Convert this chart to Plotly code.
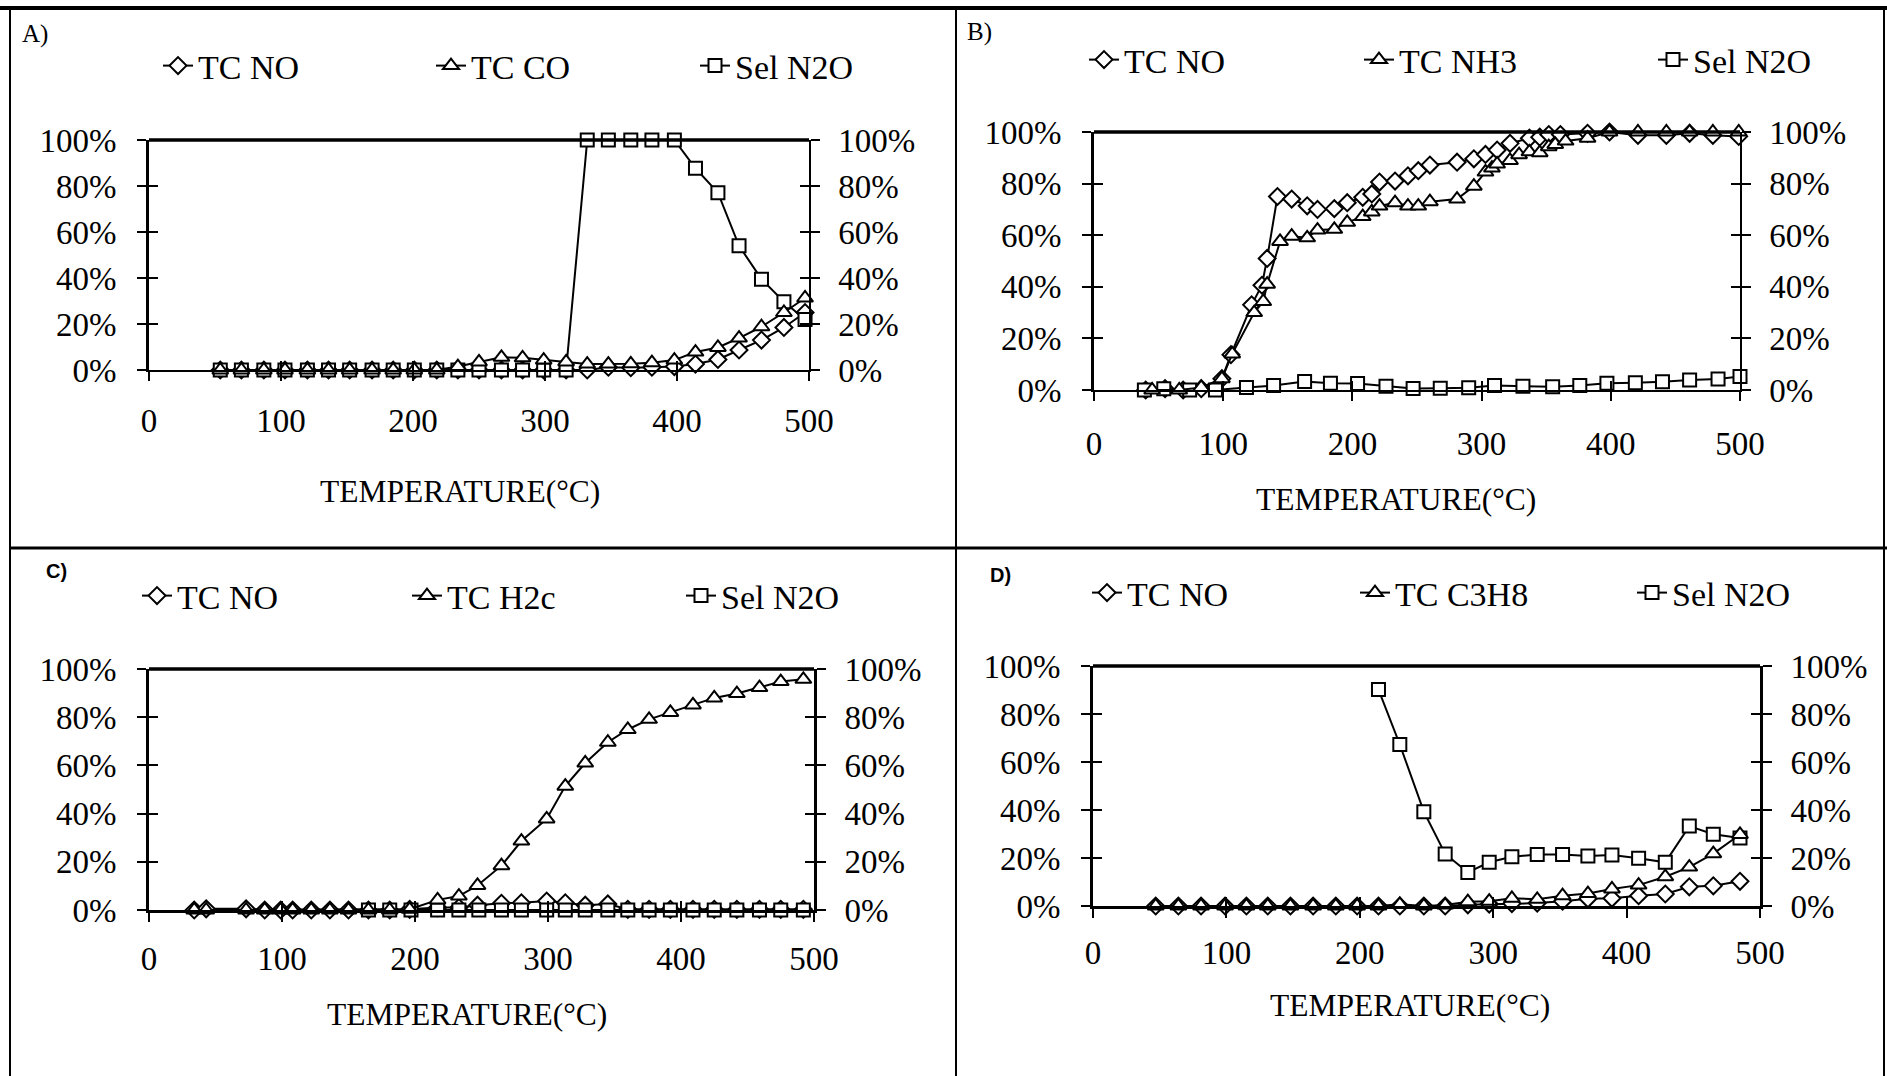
import plotly.graph_objects as go

W, H = 1887, 1076

# ---------------- data: temperature (°C) and conversion / selectivity (%) ----------------
# A) NO + CO
a_temp = [54, 70, 87, 103, 120, 136, 152, 169, 185, 201, 218, 234, 250, 267, 283, 299, 316,
          332, 348, 365, 381, 398, 414, 431, 447, 464, 481, 497]
a_tc_no = [0, 0, 0, 0, 0, 0, 0, 0, 0, 0, 0, 0, 0, 0, 0, 0, 0,
           0, 1.2, 1.0, 1.2, 1.5, 2.6, 4.6, 8.7, 13, 18.5, 25]
a_tc_co = [0, 0, 0, 0, 0, 0, 0, 0, 0, 0, 0, 1.5, 3.5, 5.5, 5.3, 4.3, 3.5,
           2.6, 2.6, 2.7, 3.2, 4.3, 7.8, 9.8, 13.9, 18.8, 25, 31.3]
a_sel_n2o = [0, 0, 0, 0, 0, 0, 0, 0, 0, 0, 0, 0, 0, 0, 0, 0, 0,
             100, 100, 100, 100, 100, 87.7, 77.1, 54, 39.5, 29.7, 22]

# B) NO + NH3
b_temp_no = [40, 55, 69, 83, 99, 106, 122, 130, 134, 142, 153, 165, 173, 186, 196, 208, 215, 221,
             233, 243, 251, 260, 281, 294, 303, 312, 322, 337, 345, 352, 361, 382, 399, 421, 443,
             461, 479, 499]
b_tc_no = [0, 0.5, 0, 0.5, 4.4, 13.7, 33, 40.6, 51, 75, 74, 71.4, 70, 70.3, 72.6, 74.7, 76, 80.6,
           81, 83, 85, 87.2, 88.3, 89.6, 91.3, 93, 95.6, 97.6, 98, 99, 99, 99.5, 100, 98.7, 98.7,
           99.5, 98.7, 98.3]
b_temp_nh3 = [45, 66, 83, 99, 107, 124, 131, 134, 144, 153, 165, 173, 186, 196, 208, 215, 221, 233,
              243, 251, 260, 281, 294, 303, 308, 312, 322, 329, 337, 345, 352, 357, 365, 382, 399,
              421, 443, 461, 479, 499]
b_tc_nh3 = [0, 0, 1, 4.4, 14, 30, 34.3, 41, 57.6, 59.6, 59, 62, 62.3, 65, 67.2, 69, 71.3, 72.6,
            71.3, 71.3, 73, 74, 79, 84.5, 86, 87.6, 89, 91.2, 92.3, 92, 94.3, 95.2, 96.5, 97.6, 100,
            100, 100, 100, 100, 100]
b_temp_sel = [39, 54, 74, 94, 118, 139, 163, 183, 204, 226, 247, 268, 290, 310, 332, 355, 376, 397,
              419, 440, 461, 483, 500]
b_sel_n2o = [0, 0.5, 0, 0, 1, 1.7, 3.3, 2.6, 2.5, 1.5, 0.6, 0.7, 0.9, 1.7, 1.5, 1.3, 1.7, 2.6,
             2.8, 3.2, 3.9, 4.3, 5.2]

# C) NO + H2
c_temp = [34, 43, 73, 87, 99, 108, 122, 136, 150, 165, 181, 196, 217, 233, 247, 265, 280, 299,
          313, 328, 345, 360, 376, 392, 409, 425, 442, 459, 475, 492]
c_tc_no = [0, 0.5, 0.5, 0, 0, 0, 0, 0, 0, 0, 0, 0.3, 1, 1, 2, 2.8, 3, 3.7,
           3, 2, 2.5, 0.3, 0.3, 0.3, 0.3, 0.3, 0.3, 0.3, 0.3, 0.3]
c_tc_h2 = [0, 0, 0, 0, 0, 0, 0, 0, 0, 0, 0, 0.3, 4.2, 5.8, 10.2, 18.4, 28.6, 37.8,
           51.4, 61, 69.6, 74.9, 79.1, 82, 85.1, 88, 89.8, 92.3, 94.8, 95.7]
c_temp_sel = [165, 181, 197, 217, 233, 248, 265, 280, 299, 313, 328, 345, 360, 376, 392, 409, 425,
              442, 459, 475, 492]
c_sel_n2o = [0, 0, 0, 0, 0, 0, 0, 0, 0, 0, 0, 0, 0, 0, 0, 0, 0, 0, 0, 0, 0]

# D) NO + C3H8
d_temp = [47, 64, 81, 99, 115, 131, 148, 165, 182, 198, 214, 230, 248, 264, 281, 297, 314, 333,
          352, 371, 389, 409, 429, 447, 465, 485]
d_tc_no = [0, 0, 0, 0, 0, 0, 0, 0, 0, 0, 0, 0, 0, 0, 0.5, 0.8, 1, 1.2,
           2, 3, 3.2, 4.3, 5, 8, 8.4, 10.3]
d_tc_c3h8 = [0, 0, 0, 0, 0, 0, 0, 0, 0, 0, 0, 0.7, 0, 0.4, 1.8, 2, 3.2, 2.8,
             4.3, 5.2, 7.1, 8.7, 12.2, 16.2, 21.8, 29.8]
d_temp_sel = [214, 230, 248, 264, 281, 297, 314, 333, 352, 371, 389, 409, 429, 447, 465, 485]
d_sel_n2o = [90.2, 67.3, 39.3, 21.7, 14, 18.2, 20.5, 21.5, 21.5, 20.8, 21.2, 19.9, 18.2, 33.3,
             29.9, 28.3]

x_ticks = [0, 100, 200, 300, 400, 500]
y_ticks = [0, 20, 40, 60, 80, 100]
y_tick_text = ["0%", "20%", "40%", "60%", "80%", "100%"]
x_title = "TEMPERATURE(°C)"

# ---------------- styling / layout ----------------
SERIF = "Liberation Serif"
SANS = "Liberation Sans"
BLACK = "#000000"


def fx(px):
    return px / W


def fy(px):
    return 1 - px / H


# each legend entry gets its own legend box; positions give the left edge of the entry text
panels = [
    dict(label="A)", label_font=dict(family=SERIF, size=25), label_xy=(20, 34),
         x_px=(149, 809), y_px=(140, 370), right_w=1.5, bottom_w=1.5, x_standoff=12,
         legend_text_x=(199, 472, 736), legend_y=66, title_xy=(460, 491),
         series=[(a_temp, a_tc_no, "TC NO", "diamond"),
                 (a_temp, a_tc_co, "TC CO", "triangle-up"),
                 (a_temp, a_sel_n2o, "Sel N2O", "square")]),
    dict(label="B)", label_font=dict(family=SERIF, size=25), label_xy=(965, 32),
         x_px=(1094, 1740), y_px=(132, 390), right_w=1.5, bottom_w=1.5, x_standoff=15,
         legend_text_x=(1125, 1400, 1694), legend_y=60, title_xy=(1396, 499),
         series=[(b_temp_no, b_tc_no, "TC NO", "diamond"),
                 (b_temp_nh3, b_tc_nh3, "TC NH3", "triangle-up"),
                 (b_temp_sel, b_sel_n2o, "Sel N2O", "square")]),
    dict(label="C)", label_font=dict(family=SANS, size=20, weight="bold"), label_xy=(44, 571),
         x_px=(149, 814), y_px=(669, 910), right_w=3, bottom_w=2.5, x_standoff=9,
         legend_text_x=(178, 448, 722), legend_y=596, title_xy=(467, 1014),
         series=[(c_temp, c_tc_no, "TC NO", "diamond"),
                 (c_temp, c_tc_h2, "TC H2c", "triangle-up"),
                 (c_temp_sel, c_sel_n2o, "Sel N2O", "square")]),
    dict(label="D)", label_font=dict(family=SANS, size=20, weight="bold"), label_xy=(988, 575),
         x_px=(1093, 1760), y_px=(666, 906), right_w=3, bottom_w=2.5, x_standoff=7,
         legend_text_x=(1128, 1396, 1673), legend_y=593, title_xy=(1410, 1005),
         series=[(d_temp, d_tc_no, "TC NO", "diamond"),
                 (d_temp, d_tc_c3h8, "TC C3H8", "triangle-up"),
                 (d_temp_sel, d_sel_n2o, "Sel N2O", "square")]),
]

marker_size = {"diamond": 13, "triangle-up": 14, "square": 13}
LEGEND_TEXT_OFFSET = 41

fig = go.Figure()
layout = dict(width=W, height=H, margin=dict(l=0, r=0, t=0, b=0, autoexpand=False),
              paper_bgcolor="white", plot_bgcolor="rgba(0,0,0,0)",
              font=dict(family=SERIF, color=BLACK), showlegend=True)
shapes, annotations = [], []


def ax_id(kind, n):
    return kind if n == 1 else f"{kind}{n}"


def ax_key(kind, n):
    return f"{kind}axis" if n == 1 else f"{kind}axis{n}"


tick_font = dict(family=SERIF, size=33, color=BLACK)
legend_count = 0

for p, pan in enumerate(panels):
    # xa/ya: labelled bottom + left axes with outward ticks
    # xb/yb: overlays carrying the inward half of the cross ticks (yb mirrors onto the right)
    # yc:    right-hand percentage axis (selectivity)
    xa, xb = 2 * p + 1, 2 * p + 2
    ya, yb, yc = 3 * p + 1, 3 * p + 2, 3 * p + 3
    xdom = [fx(pan["x_px"][0]), fx(pan["x_px"][1])]
    ydom = [fy(pan["y_px"][1]), fy(pan["y_px"][0])]
    common_x = dict(range=[0, 500], tickmode="array", tickvals=x_ticks, showgrid=False,
                    zeroline=False, tickcolor=BLACK, tickwidth=1.5, ticklen=9,
                    automargin=False)
    common_y = dict(range=[0, 100], tickmode="array", tickvals=y_ticks, ticktext=y_tick_text,
                    showgrid=False, zeroline=False, tickcolor=BLACK, tickwidth=1.5, ticklen=9,
                    automargin=False)

    layout[ax_key("x", xa)] = dict(common_x, domain=xdom, anchor=ax_id("y", ya), ticks="outside",
                                   showline=True, linecolor=BLACK, linewidth=pan["bottom_w"],
                                   tickfont=tick_font, ticklabelstandoff=pan["x_standoff"])
    layout[ax_key("x", xb)] = dict(common_x, overlaying=ax_id("x", xa), anchor=ax_id("y", ya),
                                   side="bottom", ticks="inside", showticklabels=False,
                                   showline=False)
    layout[ax_key("y", ya)] = dict(common_y, domain=ydom, anchor=ax_id("x", xa), ticks="outside",
                                   showline=True, linecolor=BLACK, linewidth=3,
                                   tickfont=tick_font, ticklabelstandoff=14)
    layout[ax_key("y", yb)] = dict(common_y, overlaying=ax_id("y", ya), anchor=ax_id("x", xa),
                                   side="left", ticks="inside", showticklabels=False,
                                   showline=True, linecolor=BLACK, linewidth=pan["right_w"],
                                   mirror="ticks")
    layout[ax_key("y", yc)] = dict(common_y, overlaying=ax_id("y", ya), anchor=ax_id("x", xa),
                                   side="right", ticks="outside", showline=True, linecolor=BLACK,
                                   linewidth=pan["right_w"], tickfont=tick_font,
                                   ticklabelstandoff=12)

    # thick top edge of the plot area
    shapes.append(dict(type="line", xref=f"{ax_id('x', xa)} domain",
                       yref=f"{ax_id('y', ya)} domain", x0=0, x1=1, y0=1, y1=1,
                       line=dict(color=BLACK, width=3.5)))

    axes_for_series = [(xa, ya), (xb, yb), (xa, yc)]
    for s, (tx, vals, name, sym) in enumerate(pan["series"]):
        legend_count += 1
        leg = "legend" if legend_count == 1 else f"legend{legend_count}"
        layout[leg] = dict(orientation="h",
                           x=fx(pan["legend_text_x"][s] - LEGEND_TEXT_OFFSET),
                           y=fy(pan["legend_y"]), xanchor="left", yanchor="middle",
                           bgcolor="rgba(0,0,0,0)", borderwidth=0,
                           font=dict(family=SERIF, size=34, color=BLACK),
                           itemclick=False, itemdoubleclick=False)
        xn, yn = axes_for_series[s]
        fig.add_trace(go.Scatter(
            x=tx, y=vals, name=name, mode="lines+markers", legend=leg,
            xaxis=ax_id("x", xn), yaxis=ax_id("y", yn), cliponaxis=False,
            line=dict(color=BLACK, width=2),
            marker=dict(symbol=sym, size=marker_size[sym], color="white",
                        line=dict(color=BLACK, width=2)),
            hovertemplate="%{x} °C: %{y}%<extra>" + name + "</extra>"))

    annotations.append(dict(text=x_title, xref="paper", yref="paper",
                            x=fx(pan["title_xy"][0]), y=fy(pan["title_xy"][1]),
                            xanchor="center", yanchor="middle", showarrow=False,
                            font=dict(family=SERIF, size=31.5, color=BLACK)))
    annotations.append(dict(text=pan["label"], xref="paper", yref="paper",
                            x=fx(pan["label_xy"][0]), y=fy(pan["label_xy"][1]),
                            xanchor="left", yanchor="middle", showarrow=False,
                            font=dict(pan["label_font"], color=BLACK)))

# frame lines separating the four panels
frame = [
    (0, 8, W, 8, 4),          # top
    (10, 8, 10, H, 2),        # left
    (956, 8, 956, H, 2),      # centre vertical
    (10, 548, W, 548, 3),     # centre horizontal
    (1884, 8, 1884, H, 2),    # right
]
for x0, y0, x1, y1, w in frame:
    shapes.append(dict(type="line", xref="paper", yref="paper",
                       x0=fx(x0), y0=fy(y0), x1=fx(x1), y1=fy(y1),
                       line=dict(color=BLACK, width=w)))

layout["shapes"] = shapes
layout["annotations"] = annotations
fig.update_layout(**layout)

fig.write_html("out.html")
